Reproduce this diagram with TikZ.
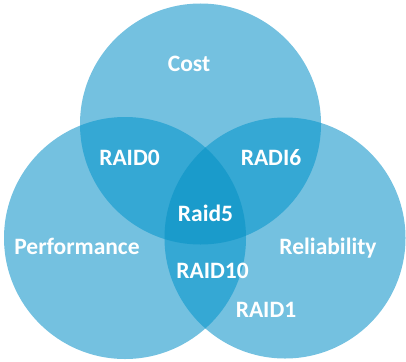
\documentclass[tikz,border=0pt]{standalone}
\usepackage{fontspec}
\setmainfont{Carlito}
\definecolor{vone}{RGB}{116,193,224}
\definecolor{vtwo}{RGB}{53,168,212}
\definecolor{vthree}{RGB}{26,155,203}
\begin{document}
\begin{tikzpicture}[x=1pt,y=-1pt,
  lbl/.style={text=white,font=\fontsize{23.5}{26}\selectfont\bfseries,anchor=base,inner sep=0pt}]
\useasboundingbox (0,0) rectangle (406,361);
\coordinate (ct) at (200.5,124);
\coordinate (cl) at (125,238);
\coordinate (cr) at (285,238);
\def\rt{120.5}
\def\rl{121}
\def\rr{120.5}
% single
\fill[vone] (ct) circle[radius=\rt];
\fill[vone] (cl) circle[radius=\rl];
\fill[vone] (cr) circle[radius=\rr];
% pairs
\begin{scope}\clip (ct) circle[radius=\rt]; \fill[vtwo] (cl) circle[radius=\rl]; \fill[vtwo] (cr) circle[radius=\rr];\end{scope}
\begin{scope}\clip (cl) circle[radius=\rl]; \fill[vtwo] (cr) circle[radius=\rr];\end{scope}
% triple
\begin{scope}\clip (ct) circle[radius=\rt]; \clip (cl) circle[radius=\rl]; \fill[vthree] (cr) circle[radius=\rr];\end{scope}
% labels
\node[lbl] (cost) at (189,71) {Cost};
\node[lbl] (r0) at (129.5,165) {RAID0};
\node[lbl] (r6) at (271,165) {RADI6};
\node[lbl] (r5) at (205.5,221) {Raid5};
\node[lbl] (perf) at (77,254) {Performance};
\node[lbl] (rel) at (328,254) {Reliability};
\node[lbl] (r10) at (212.5,278) {RAID10};
\node[lbl] (r1) at (266,317.5) {RAID1};
\end{tikzpicture}
\end{document}
